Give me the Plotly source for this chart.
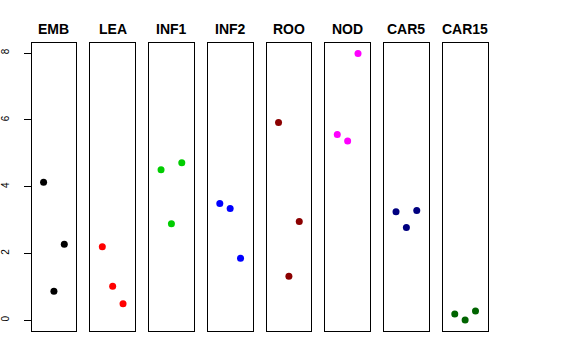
import plotly.graph_objects as go

categories = ["EMB", "LEA", "INF1", "INF2", "ROO", "NOD", "CAR5", "CAR15"]
colors = ["#000000", "#FF0000", "#00CD00", "#0000FF", "#8B0000", "#FF00FF", "#000080", "#006400"]
replicate_x = [1, 2, 3]
values = {
    "EMB":   [4.13, 0.87, 2.28],
    "LEA":   [2.20, 1.02, 0.50],
    "INF1":  [4.51, 2.89, 4.72],
    "INF2":  [3.50, 3.35, 1.86],
    "ROO":   [5.92, 1.32, 2.96],
    "NOD":   [5.56, 5.37, 7.99],
    "CAR5":  [3.25, 2.78, 3.29],
    "CAR15": [0.19, 0.01, 0.28],
}
y_ticks = [0, 2, 4, 6, 8]

W, H = 576, 360
left0, step, pw = 28.7, 59.05, 45.0
ytop, ybot = 42.7, 330.7

fig = go.Figure()
layout = dict(
    width=W, height=H,
    margin=dict(l=0, r=0, t=0, b=0),
    paper_bgcolor="white", plot_bgcolor="white",
    showlegend=False,
    font=dict(family="Liberation Sans, Arial, sans-serif", color="black"),
)
annotations = []
for i, (cat, col) in enumerate(zip(categories, colors)):
    n = "" if i == 0 else str(i + 1)
    x0 = (left0 + i * step) / W
    x1 = (left0 + i * step + pw) / W
    fig.add_trace(go.Scatter(
        x=replicate_x, y=values[cat], mode="markers",
        marker=dict(color=col, size=7, line=dict(width=0)),
        xaxis="x" + n, yaxis="y" + n, hoverinfo="skip",
    ))
    layout["xaxis" + n] = dict(
        domain=[x0, x1], range=[-0.16, 4.16], anchor="y" + n,
        showgrid=False, zeroline=False, showticklabels=False, ticks="",
        showline=True, mirror=True, linecolor="black", linewidth=1,
    )
    yax = dict(
        domain=[1 - ybot / H, 1 - ytop / H], range=[-0.31, 8.31], anchor="x" + n,
        showgrid=False, zeroline=False,
        showline=True, mirror=True, linecolor="black", linewidth=1,
    )
    if i == 0:
        yax.update(tickvals=y_ticks, ticktext=[str(t) for t in y_ticks],
                   ticks="outside", ticklen=7, tickcolor="black", tickwidth=1,
                   tickangle=-90, tickfont=dict(size=10, color="black"),
                   ticklabelstandoff=11)
    else:
        yax.update(showticklabels=False, ticks="")
    layout["yaxis" + n] = yax
    annotations.append(dict(
        x=(x0 + x1) / 2, y=1 - 29.3 / H, xref="paper", yref="paper",
        text="<b>" + cat + "</b>", showarrow=False,
        xanchor="center", yanchor="middle",
        font=dict(size=14, color="black", family="Liberation Sans, Arial, sans-serif"),
    ))
layout["annotations"] = annotations
fig.update_layout(**layout)
fig.write_html("out.html", config={"displayModeBar": False},
               post_script="document.body.style.margin='0px';")
